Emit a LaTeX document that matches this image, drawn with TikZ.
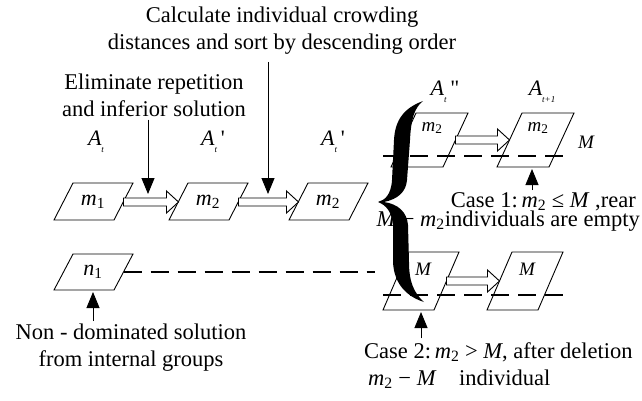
\documentclass[tikz,border=0pt]{standalone}
\usepackage{fontspec}
\setmainfont{Liberation Serif}
\usetikzlibrary{arrows.meta,calc}
\newcommand\mv[1]{\textit{#1}}
\newcommand\lowsub[1]{\raisebox{-0.32em}{\fontsize{9}{9}\selectfont\itshape #1}}
\newcommand\pgm[5]{\draw[pg] (#1,#2) -- ++(#5,-#4) -- ++(#3,0) -- ++(-#5,#4) -- cycle;}
\begin{document}
\begin{tikzpicture}[x=1pt,y=-1pt,
  txt/.style={font=\fontsize{22.5}{27}\selectfont, inner sep=0pt, align=center},
  lbl/.style={font=\fontsize{22}{26}\selectfont\itshape, inner sep=0pt},
  slbl/.style={font=\fontsize{19}{22}\selectfont\itshape, inner sep=0pt},
  pg/.style={draw, line width=0.9pt, fill=white},
  dashline/.style={line width=2.6pt, dash pattern=on 18pt off 9pt},
  ptr/.style={line width=0.9pt, -{Triangle[length=16pt,width=13pt]}},
  hollow/.style={draw, line width=0.9pt, fill=white,
    to path={let \p1=(\tikztostart), \p2=(\tikztotarget) in
      (\x1,\y1+4pt) -- (\x2-12pt,\y1+4pt) -- (\x2-12pt,\y1+11pt) -- (\x2,\y1)
      -- (\x2-12pt,\y1-11pt) -- (\x2-12pt,\y1-4pt) -- (\x1,\y1-4pt) -- cycle}}
]
\useasboundingbox (0,0) rectangle (642,400);
\fill[white] (0,0) rectangle (642,400);

% top texts
\node[txt] (calc) at (282,31) {Calculate individual crowding\\distances and sort by descending order};
\node[txt] (elim) at (154,95) {Eliminate repetition\\and inferior solution};

% A labels
\node[lbl] (at1) at (96,142) {A\lowsub{t}};
\node[lbl] (at2) at (213,142) {A\lowsub{t}\,\upshape\textquotesingle};
\node[lbl] (at3) at (333,142) {A\lowsub{t}\,\upshape\textquotesingle};
\node[lbl] (at4) at (445,92) {A\lowsub{t}\,\upshape\textquotedbl};
\node[lbl] (at5) at (542,92) {A\lowsub{t+1}};

% row 1 shapes
\pgm{54}{220}{60}{37}{19}
\pgm{169}{220}{60}{37}{19}
\pgm{289}{220}{60}{37}{19}
\node[lbl] (m1) at (93,202) {m\textsubscript{\upshape 1}};
\node[lbl] (m2a) at (208,202) {m\textsubscript{\upshape 2}};
\node[lbl] (m2b) at (328,202) {m\textsubscript{\upshape 2}};

% n1 shape
\pgm{54}{290}{60}{36}{19}
\node[lbl] (n1) at (93,272) {n\textsubscript{\upshape 1}};

% top right shapes
\pgm{391}{167}{52}{54}{25}
\pgm{497}{167}{52}{54}{25}
\node[slbl] (m2c) at (432,128) {m\textsubscript{\upshape 2}};
\node[slbl] (m2d) at (538,128) {m\textsubscript{\upshape 2}};
\node[slbl] (Mtop) at (586,142) {M};

% lower right shapes
\pgm{383}{310}{51}{58}{25}
\pgm{487}{310}{51}{58}{25}
\node[slbl] (Ma) at (423,269) {M};
\node[slbl] (Mb) at (527,269) {M};

% hollow arrows
\coordinate (h1s) at (123.5,202); \coordinate (h1t) at (178.5,202);
\coordinate (h2s) at (238.5,202); \coordinate (h2t) at (298.5,202);
\coordinate (h3s) at (455.5,140); \coordinate (h3t) at (509.5,140);
\coordinate (h4s) at (446.5,281); \coordinate (h4t) at (499.5,281);
\draw[hollow] (h1s) to (h1t);
\draw[hollow] (h2s) to (h2t);
\draw[hollow] (h3s) to (h3t);
\draw[hollow] (h4s) to (h4t);

% dashed lines
\coordinate (d1a) at (123.5,272); \coordinate (d1b) at (375,272);
\coordinate (d2a) at (383,156); \coordinate (d2b) at (566,156);
\coordinate (d3a) at (383,295); \coordinate (d3b) at (566,295);
\draw[dashline] (d1a) -- (d1b);
\draw[dashline] (d2a) -- (d2b);
\draw[dashline] (d3a) -- (d3b);

% case texts
\node[txt, anchor=mid east] (case1) at (636,205) {Case 1:\,\mv{m}\textsubscript{2} ≤ \mv{M} ,rear};
\node[txt, anchor=mid east] (case1b) at (640,224) {\mv{M} − \mv{m}\textsubscript{2}individuals are empty};
\node[txt, anchor=mid west] (case2) at (364,356) {Case 2:\,\mv{m}\textsubscript{2} > \mv{M}, after deletion};
\node[txt, anchor=mid west] (case2b) at (368,383) {\mv{m}\textsubscript{2} − \mv{M}\quad individual};
\node[txt] (nond) at (131,348) {Non - dominated solution\\from internal groups};

% pointer arrows
\coordinate (e1tip) at (148,194);
\coordinate (c1tip) at (268,194);
\coordinate (u1tip) at (532,169);
\coordinate (u2tip) at (421,312);
\coordinate (u3tip) at (93,292);
\draw[ptr] ([yshift=-3pt]elim.south -| e1tip) -- (e1tip);
\draw[ptr] ([yshift=-7pt]calc.south -| c1tip) -- (c1tip);
\draw[ptr] ([yshift=2pt]case1.north -| u1tip) -- (u1tip);
\draw[ptr] ([yshift=4pt]case2.north -| u2tip) -- (u2tip);
\draw[ptr] ([yshift=3pt]nond.north -| u3tip) -- (u3tip);

% brace
\fill (423,101) .. controls (404,108) and (395,120) .. (394,140)
  -- (392,180) .. controls (391,195) and (385,200) .. (378,202)
  .. controls (386,205) and (392,212) .. (393,225)
  -- (393,262) .. controls (394,285) and (408,297) .. (424,302)
  .. controls (414,293) and (409,282) .. (409,262)
  -- (408,225) .. controls (407,212) and (398,204) .. (384,202)
  .. controls (398,199) and (406,192) .. (407,180)
  -- (410,140) .. controls (411,120) and (414,108) .. (423,101) -- cycle;
\end{tikzpicture}
\end{document}
